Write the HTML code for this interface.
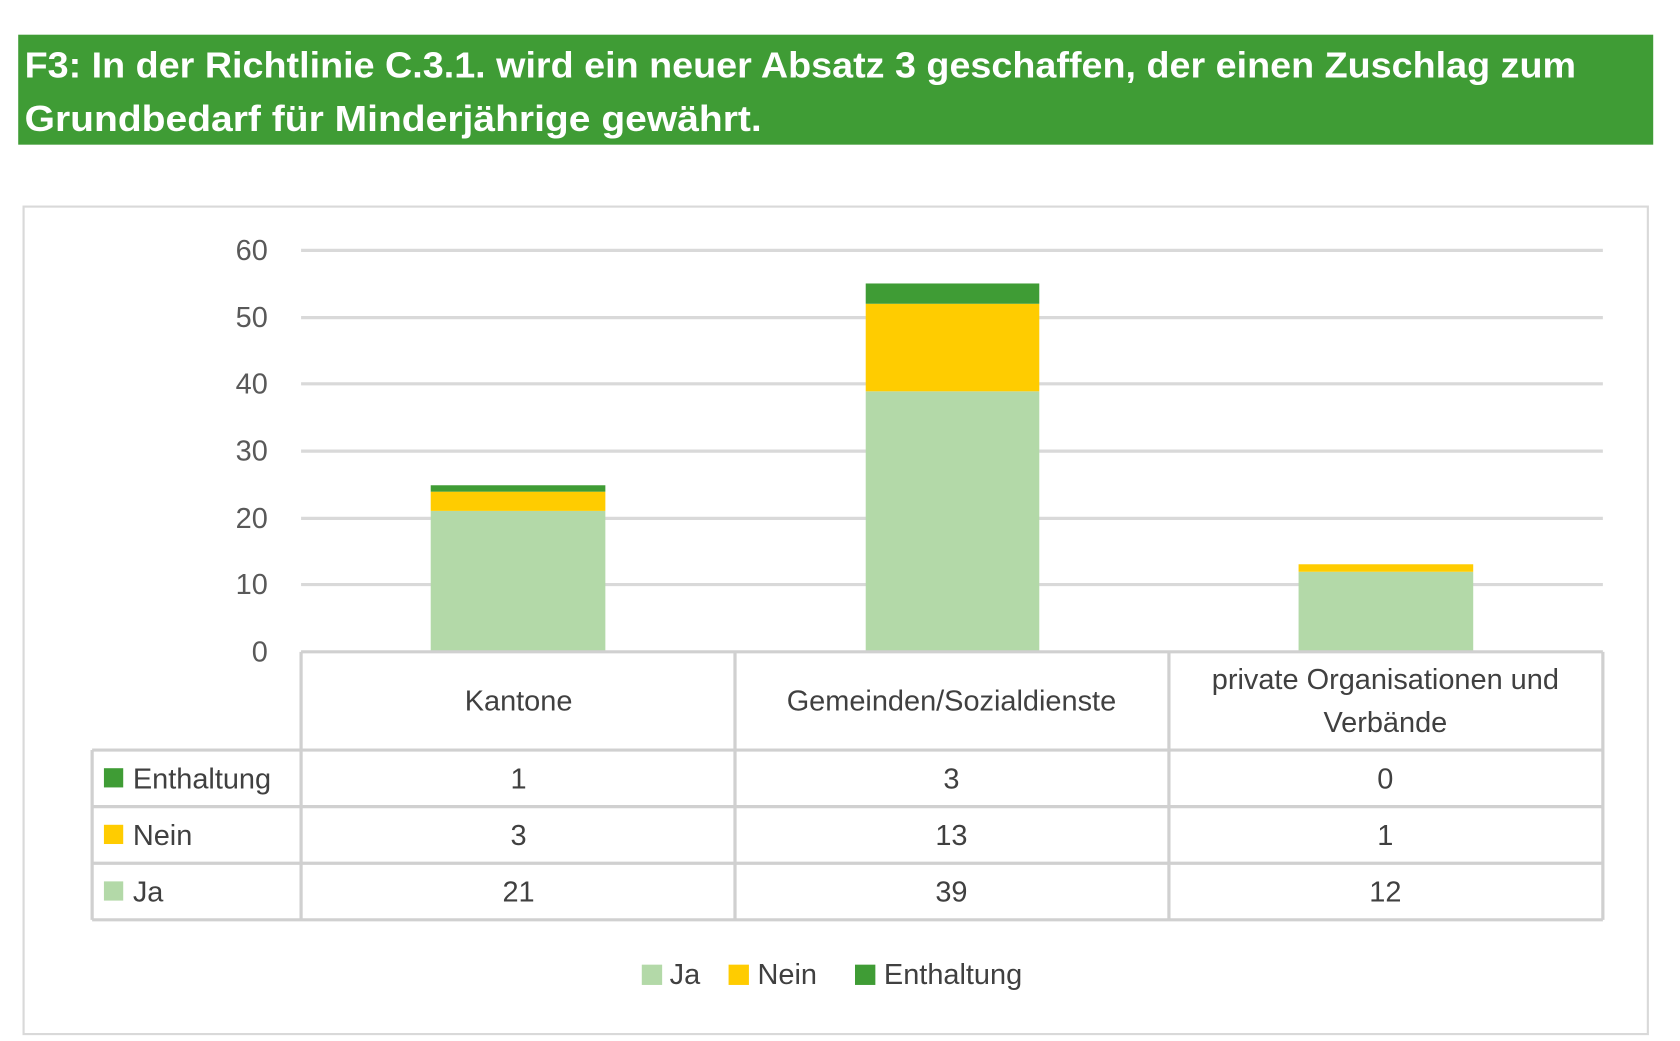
<!DOCTYPE html>
<html><head><meta charset="utf-8"><style>html,body{margin:0;padding:0;background:#fff}svg{display:block}</style></head>
<body>
<svg width="1680" height="1041" viewBox="-1 -2.5 1568 975" preserveAspectRatio="none" xmlns="http://www.w3.org/2000/svg" font-family="Liberation Sans, sans-serif">
<rect x="16" y="30" width="1526" height="103" fill="#3f9c35"/>
<text x="22" y="70" fill="#fff" font-weight="bold" font-size="34" textLength="1448" lengthAdjust="spacingAndGlyphs">F3: In der Richtlinie C.3.1. wird ein neuer Absatz 3 geschaffen, der einen Zuschlag zum</text>
<text x="22" y="120" fill="#fff" font-weight="bold" font-size="34" textLength="688" lengthAdjust="spacingAndGlyphs">Grundbedarf für Minderjährige gewährt.</text>
<rect x="21" y="191" width="1516" height="775" fill="#fff" stroke="#d9d9d9" stroke-width="2"/>
<g stroke="#d9d9d9" stroke-width="3">
<line x1="280" y1="232" x2="1495" y2="232"/><line x1="280" y1="295" x2="1495" y2="295"/><line x1="280" y1="357" x2="1495" y2="357"/><line x1="280" y1="420" x2="1495" y2="420"/><line x1="280" y1="483" x2="1495" y2="483"/><line x1="280" y1="545" x2="1495" y2="545"/>
</g>
<g font-size="27" fill="#595959" text-anchor="end">
<text x="249" y="241">60</text><text x="249" y="304">50</text><text x="249" y="366">40</text><text x="249" y="429">30</text><text x="249" y="492">20</text><text x="249" y="554">10</text><text x="249" y="617">0</text>
</g>
<rect x="401" y="476" width="163" height="132" fill="#b3d9a8"/>
<rect x="401" y="458" width="163" height="18" fill="#ffcc00"/>
<rect x="401" y="452" width="163" height="6" fill="#3f9c35"/>
<rect x="807" y="364" width="162" height="244" fill="#b3d9a8"/>
<rect x="807" y="282" width="162" height="82" fill="#ffcc00"/>
<rect x="807" y="263" width="162" height="19" fill="#3f9c35"/>
<rect x="1211" y="533" width="163" height="75" fill="#b3d9a8"/>
<rect x="1211" y="526" width="163" height="7" fill="#ffcc00"/>
<g stroke="#d0d0d0" stroke-width="3" fill="none">
<line x1="280" y1="608" x2="1495" y2="608"/>
<line x1="85" y1="700" x2="1495" y2="700"/>
<line x1="85" y1="753" x2="1495" y2="753"/>
<line x1="85" y1="806" x2="1495" y2="806"/>
<line x1="85" y1="859" x2="1495" y2="859"/>
<line x1="280" y1="608" x2="280" y2="859"/>
<line x1="685" y1="608" x2="685" y2="859"/>
<line x1="1090" y1="608" x2="1090" y2="859"/>
<line x1="1495" y1="608" x2="1495" y2="859"/>
<line x1="85" y1="700" x2="85" y2="859"/>
</g>
<g font-size="27" fill="#404040" text-anchor="middle">
<text x="483" y="663">Kantone</text>
<text x="887" y="663">Gemeinden/Sozialdienste</text>
<text x="1292" y="643">private Organisationen und</text>
<text x="1292" y="683">Verbände</text>
<text x="483" y="736">1</text><text x="887" y="736">3</text><text x="1292" y="736">0</text>
<text x="483" y="789">3</text><text x="887" y="789">13</text><text x="1292" y="789">1</text>
<text x="483" y="842">21</text><text x="887" y="842">39</text><text x="1292" y="842">12</text>
</g>
<g font-size="27" fill="#404040">
<rect x="96" y="717" width="18" height="18" fill="#3f9c35"/><text x="123" y="736">Enthaltung</text>
<rect x="96" y="770" width="18" height="18" fill="#ffcc00"/><text x="123" y="789">Nein</text>
<rect x="96" y="823" width="18" height="18" fill="#b3d9a8"/><text x="123" y="842">Ja</text>
<rect x="598" y="901" width="19" height="19" fill="#b3d9a8"/><text x="624" y="919">Ja</text>
<rect x="679" y="901" width="19" height="19" fill="#ffcc00"/><text x="706" y="919">Nein</text>
<rect x="797" y="901" width="19" height="19" fill="#3f9c35"/><text x="824" y="919">Enthaltung</text>
</g>
</svg>
</body></html>
